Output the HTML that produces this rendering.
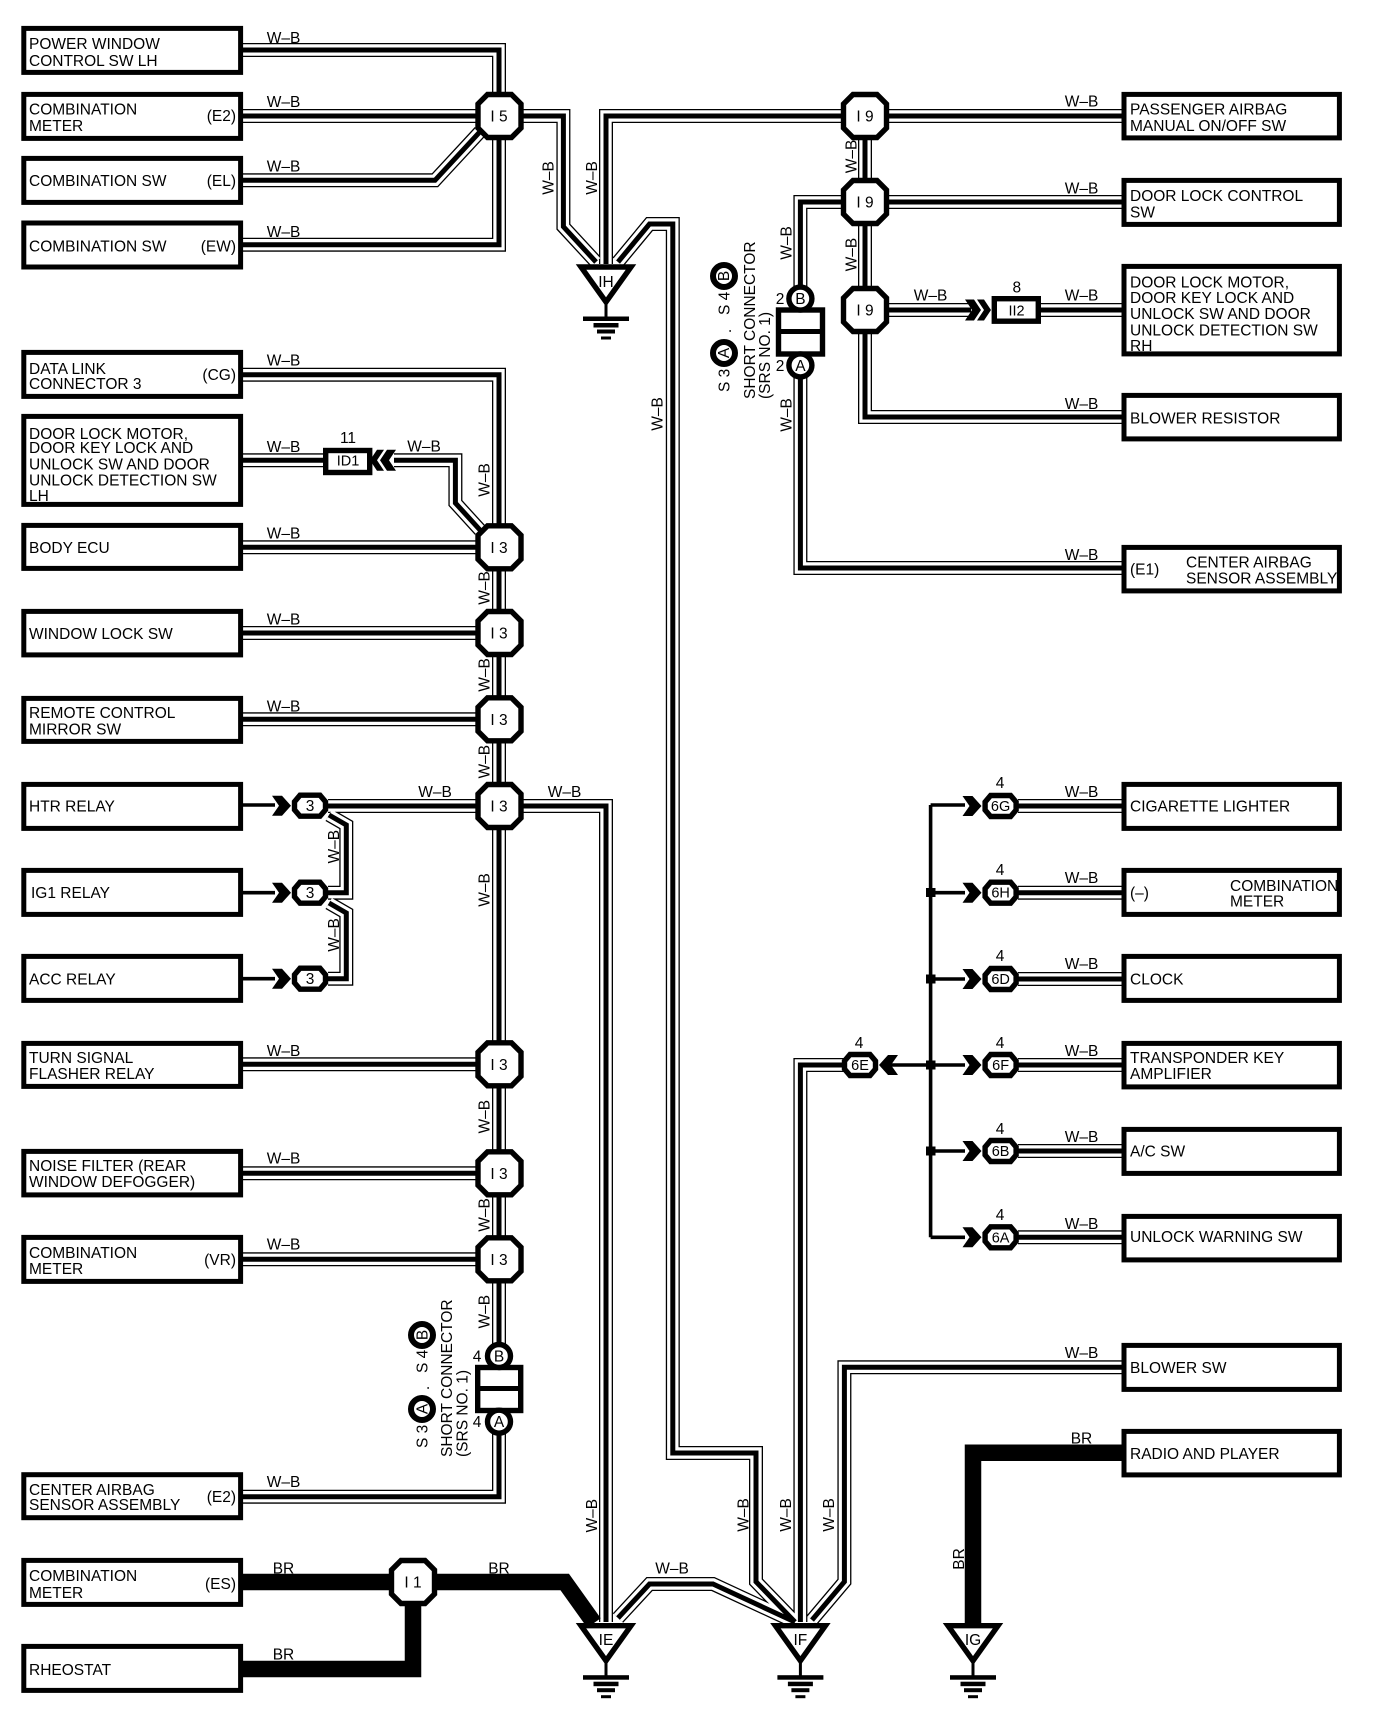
<!DOCTYPE html>
<html><head><meta charset="utf-8"><style>
html,body{margin:0;padding:0;background:#fff}
svg{display:block}
text{font-family:"Liberation Sans",sans-serif;font-size:15.5px;fill:#000}
.m{text-anchor:middle}.e{text-anchor:end}
.n{fill:#fff;stroke:#000;stroke-width:5.4}
.b{fill:none;stroke:#000;stroke-width:5}
</style></head><body>
<svg width="1376" height="1714" viewBox="0 0 1376 1714" xmlns="http://www.w3.org/2000/svg">
<defs>
<path id="w" fill="none" d="M243 50H499V116M243 116H563.4V226.7L596 262M243 180.3H435L480 131.7M243 244.7H499V116M606 264V116H1122M618 262L649.5 224H672.8V1453H756V1581.7L795 1622M865 116V417H1122M800.4 298V202H1122M865 310H971M1040 310H1122M800.4 365V568H1122M243 374.7H499V1356M243 460.3H323M394 460.3H455.4V503L480 530M243 547.3H499M243 633H499M243 719.3H499M328 806H606V1622M328 892.7H346.3V825L329 815M328 978.7H346.3V913L329 903M243 1064.3H499M243 1173.3H499M243 1259.3H499M499 1421V1496.7H243M618 1618L649.5 1584H713L795 1622M800.4 1622V1065H860M1122 1367.3H844.4V1581.7L812 1620M1018 806H1122M1018 892.7H1122M1018 979H1122M1018 1065H1122M1018 1151H1122M1018 1237.3H1122"/>
<polygon id="oct" class="n" points="-12,-21.5 12,-21.5 21.5,-12 21.5,12 12,21.5 -12,21.5 -21.5,12 -21.5,-12"/>
<polygon id="pill" class="n" points="-10,-10.5 10,-10.5 15.500,-4 15.500,4 10,10.5 -10,10.5 -15.500,4 -15.500,-4"/>
<path id="chev" d="M-19 -10H-9L0 0L-9 10H-19L-12 0Z"/>
<path id="chev2" d="M-9 -10.500H-2L5 0L-2 10.500H-9L-2 0ZM-21 -10.500H-12L-5 0L-12 10.500H-21L-14 0Z"/>
<g id="gnd"><polygon class="n" points="-25,3 25,3 0,38"/><path d="M-1.500 40h3v14h-3z"/><rect x="-23" y="52.500" width="46" height="4.500"/><rect x="-12.500" y="59" width="25" height="4.500"/><rect x="-9" y="65.500" width="18" height="4"/><rect x="-5" y="72.500" width="10" height="3"/></g>
</defs>
<rect width="1376" height="1714" fill="#fff"/>

<!-- wires -->
<use href="#w" stroke="#000" stroke-width="14"/>
<use href="#w" stroke="#fff" stroke-width="11.4"/>
<use href="#w" stroke="#000" stroke-width="5"/>
<path fill="none" stroke="#000" stroke-width="16.5" d="M243 1582H564.7L594 1623M413 1582V1669H240M1124 1452.7H973V1623"/>
<path fill="none" stroke="#000" stroke-width="3.6" d="M243 805H275M243 892.7H275M243 978.7H275M930.6 805V1237.3M930.6 805H965M930.6 892.7H965M930.6 979H965M930.6 1065H965M930.6 1151H965M930.6 1237.3H965M881 1065H930"/>
<path d="M926 888h9.500v9h-9.500zM926 974.500h9.500v9h-9.500zM926 1060.500h9.500v9h-9.500zM926 1146.500h9.500v9h-9.500z"/>

<!-- box text -->
<text x="29" y="48.800">POWER WINDOW</text><text x="29" y="66.200">CONTROL SW LH</text>
<text x="29" y="114.500">COMBINATION</text><text x="29" y="131.200">METER</text><text class="e" x="236" y="121.200">(E2)</text>
<text x="29" y="185.800">COMBINATION SW</text><text class="e" x="236" y="185.800">(EL)</text>
<text x="29" y="251.500">COMBINATION SW</text><text class="e" x="236" y="251.500">(EW)</text>
<text x="29" y="373.800">DATA LINK</text><text x="29" y="388.800">CONNECTOR 3</text><text class="e" x="236" y="379.800">(CG)</text>
<text x="29" y="438.800">DOOR LOCK MOTOR,</text><text x="29" y="453.200">DOOR KEY LOCK AND</text><text x="29" y="469.500">UNLOCK SW AND DOOR</text><text x="29" y="485.500">UNLOCK DETECTION SW</text><text x="29" y="501">LH</text>
<text x="29" y="552.800">BODY ECU</text>
<text x="29" y="638.800">WINDOW LOCK SW</text>
<text x="29" y="718.200">REMOTE CONTROL</text><text x="29" y="734.500">MIRROR SW</text>
<text x="29" y="811.500">HTR RELAY</text>
<text x="31" y="898.200">IG1 RELAY</text>
<text x="29" y="984.500">ACC RELAY</text>
<text x="29" y="1063.200">TURN SIGNAL</text><text x="29" y="1078.800">FLASHER RELAY</text>
<text x="29" y="1171.200">NOISE FILTER (REAR</text><text x="29" y="1187.200">WINDOW DEFOGGER)</text>
<text x="29" y="1258.200">COMBINATION</text><text x="29" y="1273.800">METER</text><text class="e" x="236" y="1264.800">(VR)</text>
<text x="29" y="1494.800">CENTER AIRBAG</text><text x="29" y="1509.800">SENSOR ASSEMBLY</text><text class="e" x="236" y="1502.200">(E2)</text>
<text x="29" y="1580.800">COMBINATION</text><text x="29" y="1597.800">METER</text><text class="e" x="236" y="1588.800">(ES)</text>
<text x="29" y="1674.800">RHEOSTAT</text>
<text x="1130" y="114.500">PASSENGER AIRBAG</text><text x="1130" y="130.900">MANUAL ON/OFF SW</text>
<text x="1130" y="201.200">DOOR LOCK CONTROL</text><text x="1130" y="217.300">SW</text>
<text x="1130" y="287.500">DOOR LOCK MOTOR,</text><text x="1130" y="303">DOOR KEY LOCK AND</text><text x="1130" y="319.100">UNLOCK SW AND DOOR</text><text x="1130" y="335.500">UNLOCK DETECTION SW</text><text x="1130" y="351.200">RH</text>
<text x="1130" y="423.400">BLOWER RESISTOR</text>
<text x="1130" y="574.500">(E1)</text><text x="1186" y="567.300">CENTER AIRBAG</text><text x="1186" y="583.400">SENSOR ASSEMBLY</text>
<text x="1130" y="811.500">CIGARETTE LIGHTER</text>
<text x="1130" y="898.200">(–)</text><text x="1230" y="891.200">COMBINATION</text><text x="1230" y="906.500">METER</text>
<text x="1130" y="984.500">CLOCK</text>
<text x="1130" y="1062.800">TRANSPONDER KEY</text><text x="1130" y="1078.800">AMPLIFIER</text>
<text x="1130" y="1156.500">A/C SW</text>
<text x="1130" y="1242.200">UNLOCK WARNING SW</text>
<text x="1130" y="1372.800">BLOWER SW</text>
<text x="1130" y="1458.800">RADIO AND PLAYER</text>

<!-- boxes -->
<g class="b">
<rect x="23.800" y="28.400" width="216.800" height="44"/><rect x="23.800" y="94.400" width="216.800" height="44"/><rect x="23.800" y="158.400" width="216.800" height="44"/><rect x="23.800" y="223" width="216.800" height="44"/>
<rect x="23.800" y="352.400" width="216.800" height="44"/><rect x="23.800" y="416.400" width="216.800" height="88"/><rect x="23.800" y="525.400" width="216.800" height="43"/><rect x="23.800" y="611.400" width="216.800" height="43.500"/><rect x="23.800" y="698.400" width="216.800" height="43"/><rect x="23.800" y="784.400" width="216.800" height="44"/><rect x="23.800" y="870.400" width="216.800" height="44"/><rect x="23.800" y="956.400" width="216.800" height="44"/><rect x="23.800" y="1043.400" width="216.800" height="43"/><rect x="23.800" y="1151.400" width="216.800" height="43.500"/><rect x="23.800" y="1237.400" width="216.800" height="44"/><rect x="23.800" y="1474.700" width="216.800" height="43"/><rect x="23.800" y="1560.400" width="216.800" height="44"/><rect x="23.800" y="1646.400" width="216.800" height="44"/>
<rect x="1124" y="94.400" width="215.400" height="43.500"/><rect x="1124" y="180.400" width="215.400" height="44"/><rect x="1124" y="266.400" width="215.400" height="87.500"/><rect x="1124" y="395.400" width="215.400" height="43.500"/><rect x="1124" y="547.400" width="215.400" height="43.500"/>
<rect x="1124" y="784.400" width="215.400" height="44"/><rect x="1124" y="870.400" width="215.400" height="44"/><rect x="1124" y="956.400" width="215.400" height="44"/><rect x="1124" y="1043.400" width="215.400" height="43.500"/><rect x="1124" y="1129.400" width="215.400" height="44"/><rect x="1124" y="1216.400" width="215.400" height="43.500"/><rect x="1124" y="1345.400" width="215.400" height="44"/><rect x="1124" y="1431.400" width="215.400" height="43.500"/>
</g>

<!-- octagons -->
<use href="#oct" x="499.500" y="116"/><use href="#oct" x="865" y="116"/><use href="#oct" x="865" y="202"/><use href="#oct" x="865" y="310"/>
<use href="#oct" x="499.500" y="547.300"/><use href="#oct" x="499.500" y="633"/><use href="#oct" x="499.500" y="719.300"/><use href="#oct" x="499.500" y="806"/><use href="#oct" x="499.500" y="1064.300"/><use href="#oct" x="499.500" y="1173.300"/><use href="#oct" x="499.500" y="1259.300"/><use href="#oct" x="413" y="1582"/>
<text class="m" x="499" y="121.500">I 5</text><text class="m" x="865" y="121.500">I 9</text><text class="m" x="865" y="207.500">I 9</text><text class="m" x="865" y="315.500">I 9</text>
<text class="m" x="499" y="552.800">I 3</text><text class="m" x="499" y="638.500">I 3</text><text class="m" x="499" y="724.800">I 3</text><text class="m" x="499" y="811.500">I 3</text><text class="m" x="499" y="1069.800">I 3</text><text class="m" x="499" y="1178.800">I 3</text><text class="m" x="499" y="1264.800">I 3</text><text class="m" x="413" y="1587.500">I 1</text>

<!-- pills + chevrons -->
<use href="#pill" x="310" y="805.700"/><use href="#pill" x="310" y="892.700"/><use href="#pill" x="310" y="978.700"/>
<use href="#chev" x="291" y="805.700"/><use href="#chev" x="291" y="892.700"/><use href="#chev" x="291" y="978.700"/>
<text class="m" x="310" y="811.200">3</text><text class="m" x="310" y="898.200">3</text><text class="m" x="310" y="984.200">3</text>
<use href="#pill" x="1000.600" y="806"/><use href="#pill" x="1000.600" y="892.700"/><use href="#pill" x="1000.600" y="979"/><use href="#pill" x="1000.600" y="1065"/><use href="#pill" x="1000.600" y="1151"/><use href="#pill" x="1000.600" y="1237.300"/><use href="#pill" x="860" y="1065"/>
<use href="#chev" x="981.500" y="806"/><use href="#chev" x="981.500" y="892.700"/><use href="#chev" x="981.500" y="979"/><use href="#chev" x="981.500" y="1065"/><use href="#chev" x="981.500" y="1151"/><use href="#chev" x="981.500" y="1237.300"/>
<use href="#chev" transform="translate(879 1065) scale(-1 1)"/>
<text class="m" x="1000.600" y="811" style="font-size:14.500px">6G</text><text class="m" x="1000.600" y="897.700" style="font-size:14.500px">6H</text><text class="m" x="1000.600" y="984" style="font-size:14.500px">6D</text><text class="m" x="1000.600" y="1070" style="font-size:14.500px">6F</text><text class="m" x="1000.600" y="1156" style="font-size:14.500px">6B</text><text class="m" x="1000.600" y="1242.300" style="font-size:14.500px">6A</text><text class="m" x="860" y="1070" style="font-size:14.500px">6E</text>
<text class="m" x="1000" y="788">4</text><text class="m" x="1000" y="875">4</text><text class="m" x="1000" y="961">4</text><text class="m" x="1000" y="1048">4</text><text class="m" x="1000" y="1134">4</text><text class="m" x="1000" y="1220">4</text><text class="m" x="859" y="1048">4</text>

<!-- inline connectors -->
<rect class="n" x="325.700" y="450.500" width="44" height="22"/><text class="m" x="348" y="465.500" style="font-size:14.500px">ID1</text><text class="m" x="348" y="443">11</text>
<use href="#chev2" transform="translate(375 460.300) scale(-1 1)"/>
<rect class="n" x="994.300" y="298.700" width="44" height="22.500"/><text class="m" x="1016.500" y="315.500" style="font-size:14.500px">II2</text><text class="m" x="1016.800" y="292.500">8</text>
<use href="#chev2" x="986" y="310"/>

<!-- short connectors -->
<rect class="n" x="778.500" y="310" width="44" height="44"/><rect x="776" y="329" width="49" height="5"/>
<circle class="n" cx="800.400" cy="298.600" r="11.500"/><circle class="n" cx="800.400" cy="365.400" r="11.500"/>
<text class="m" x="800.400" y="304">B</text><text class="m" x="800.400" y="370.800">A</text><text class="m" x="780" y="304">2</text><text class="m" x="780" y="370.800">2</text>
<rect class="n" x="477.700" y="1367.500" width="43" height="43"/><rect x="475.400" y="1386" width="47.600" height="5"/>
<circle class="n" cx="499" cy="1356" r="11.500"/><circle class="n" cx="499" cy="1421.700" r="11.500"/>
<text class="m" x="499" y="1361.500">B</text><text class="m" x="499" y="1427">A</text><text class="m" x="477" y="1361.500">4</text><text class="m" x="477" y="1427">4</text>

<g transform="translate(725 0)"><circle class="n" style="stroke-width:6" cx="-1" cy="276" r="11"/><circle class="n" style="stroke-width:6" cx="-1" cy="353" r="11"/></g>
<text transform="translate(729.500 392) rotate(-90)">S 3</text><text transform="translate(729 353) rotate(-90)" class="m">A</text><text transform="translate(731 331) rotate(-90)" class="m">.</text><text transform="translate(729.500 315) rotate(-90)">S 4</text><text transform="translate(729 276) rotate(-90)" class="m">B</text>
<text transform="translate(755 399) rotate(-90)">SHORT CONNECTOR</text><text transform="translate(770 399) rotate(-90)">(SRS NO. 1)</text>
<circle class="n" style="stroke-width:6" cx="422" cy="1335" r="11"/><circle class="n" style="stroke-width:6" cx="422" cy="1409" r="11"/>
<text transform="translate(427.500 1448) rotate(-90)">S 3</text><text transform="translate(427.500 1409) rotate(-90)" class="m">A</text><text transform="translate(429 1388) rotate(-90)" class="m">.</text><text transform="translate(427.500 1373) rotate(-90)">S 4</text><text transform="translate(427.500 1335) rotate(-90)" class="m">B</text>
<text transform="translate(451.800 1457) rotate(-90)">SHORT CONNECTOR</text><text transform="translate(467.500 1457) rotate(-90)">(SRS NO. 1)</text>

<!-- grounds -->
<use href="#gnd" x="606" y="264"/><use href="#gnd" x="606" y="1622.700"/><use href="#gnd" x="800.400" y="1622.700"/><use href="#gnd" x="973" y="1622.700"/>
<text class="m" x="606" y="287">IH</text><text class="m" x="606" y="1645">IE</text><text class="m" x="800.400" y="1645">IF</text><text class="m" x="973" y="1645">IG</text>

<!-- wire labels horizontal -->
<g class="m">
<text class="m" x="283.500" y="42.800">W–B</text><text class="m" x="283.500" y="107.200">W–B</text><text class="m" x="283.500" y="171.500">W–B</text><text class="m" x="283.500" y="237.200">W–B</text>
<text class="m" x="283.500" y="365.500">W–B</text><text class="m" x="283.500" y="452.200">W–B</text><text class="m" x="424" y="451.500">W–B</text><text class="m" x="283.500" y="538.500">W–B</text><text class="m" x="283.500" y="624.500">W–B</text><text class="m" x="283.500" y="711.500">W–B</text>
<text class="m" x="435" y="797.200">W–B</text><text class="m" x="564.500" y="797.200">W–B</text>
<text class="m" x="283.500" y="1056.200">W–B</text><text class="m" x="283.500" y="1163.500">W–B</text><text class="m" x="283.500" y="1249.500">W–B</text><text class="m" x="283.500" y="1487.200">W–B</text>
<text class="m" x="672" y="1573.500">W–B</text>
<text class="m" x="283.500" y="1573.500">BR</text><text class="m" x="499" y="1573.500">BR</text><text class="m" x="283.500" y="1659.500">BR</text>
<text class="m" x="1081.500" y="106.500">W–B</text><text class="m" x="1081.500" y="193.500">W–B</text><text class="m" x="1081.500" y="300.500">W–B</text><text class="m" x="930.600" y="300.500">W–B</text><text class="m" x="1081.500" y="409">W–B</text><text class="m" x="1081.500" y="560">W–B</text>
<text class="m" x="1081.500" y="797.200">W–B</text><text class="m" x="1081.500" y="883.200">W–B</text><text class="m" x="1081.500" y="968.800">W–B</text><text class="m" x="1081.500" y="1056.200">W–B</text><text class="m" x="1081.500" y="1142.200">W–B</text><text class="m" x="1081.500" y="1228.800">W–B</text><text class="m" x="1081.500" y="1358.200">W–B</text><text class="m" x="1081.500" y="1443.500">BR</text>
</g>

<!-- wire labels vertical -->
<text class="m" transform="translate(553.500 178) rotate(-90)">W–B</text><text class="m" transform="translate(597 178) rotate(-90)">W–B</text>
<text class="m" transform="translate(662.500 414) rotate(-90)">W–B</text>
<text class="m" transform="translate(856.500 156.400) rotate(-90)">W–B</text><text class="m" transform="translate(856.500 254.600) rotate(-90)">W–B</text>
<text class="m" transform="translate(791.500 243) rotate(-90)">W–B</text><text class="m" transform="translate(791.500 415) rotate(-90)">W–B</text>
<text class="m" transform="translate(489.500 480) rotate(-90)">W–B</text><text class="m" transform="translate(489.500 588) rotate(-90)">W–B</text><text class="m" transform="translate(489.500 675) rotate(-90)">W–B</text><text class="m" transform="translate(489.500 761.700) rotate(-90)">W–B</text><text class="m" transform="translate(489.500 890) rotate(-90)">W–B</text><text class="m" transform="translate(489.500 1116.700) rotate(-90)">W–B</text><text class="m" transform="translate(489.500 1215) rotate(-90)">W–B</text><text class="m" transform="translate(489.500 1311.700) rotate(-90)">W–B</text>
<text class="m" transform="translate(339.200 846.700) rotate(-90)">W–B</text><text class="m" transform="translate(339.200 935) rotate(-90)">W–B</text>
<text class="m" transform="translate(597 1515.700) rotate(-90)">W–B</text><text class="m" transform="translate(748.500 1515) rotate(-90)">W–B</text><text class="m" transform="translate(790.800 1515) rotate(-90)">W–B</text><text class="m" transform="translate(834 1515) rotate(-90)">W–B</text>
<text class="m" transform="translate(964 1559) rotate(-90)">BR</text>
</svg>
</body></html>
